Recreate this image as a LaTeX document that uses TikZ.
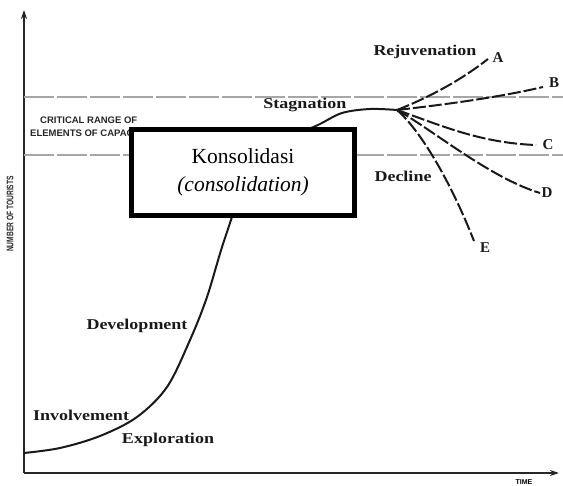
\documentclass[tikz,border=0pt]{standalone}
\usepackage{fontspec}
\setmainfont{Liberation Serif}
\newfontfamily\capsans{Liberation Sans}
\usetikzlibrary{arrows.meta}
\newcommand{\widebold}[1]{\scalebox{1.2}[1]{\bfseries #1}}

\begin{document}
\begin{tikzpicture}[x=1pt,y=-1pt,
  axis/.style={line width=1.5pt, black!85, -{Stealth[length=9pt,width=6pt]}},
  curve/.style={line width=2pt, line cap=round, black!90},
  branch/.style={line width=2pt, black!90, dash pattern=on 13pt off 3pt},
  rangeline/.style={gray!70, line width=1.3pt, dash pattern=on 30pt off 3pt},
  stage/.style={font=\fontsize{15}{18}\selectfont, inner sep=0pt, text=black!90},
  endlabel/.style={font=\fontsize{15}{18}\selectfont\bfseries, inner sep=0pt, text=black!90},
  smallcaps/.style={font=\capsans\bfseries\fontsize{9.5}{10}\selectfont, inner sep=0pt, text=black!85},
  phasebox/.style={draw, line width=5pt, fill=white, minimum width=223pt, minimum height=86pt,
    align=center, inner sep=0pt, font=\fontsize{21.5}{28}\selectfont}
]
\useasboundingbox (0,0) rectangle (563,486);

% axes
\coordinate (origin) at (24,473);
\coordinate (ytop) at (24,10);
\coordinate (xend) at (559,473);
\draw[axis] (origin) -- (ytop);
\draw[axis] (origin) -- (xend);
\node[font=\capsans\bfseries\fontsize{9.5}{10}\selectfont, rotate=90, inner sep=0pt, text=black!85] (ylab) at (10,214) {\scalebox{0.7}[1]{NUMBER OF TOURISTS}};
\node[font=\capsans\bfseries\fontsize{7}{8}\selectfont, inner sep=0pt] (xlab) at (524,482) {TIME};

% critical range of carrying capacity
\coordinate (upL) at (24,97);  \coordinate (upR) at (563,97);
\coordinate (loL) at (24,155); \coordinate (loR) at (563,155);
\draw[rangeline] (upL) -- (upR);
\draw[rangeline] (loL) -- (loR);
\node[smallcaps, anchor=west] (crit1) at (40,120) {CRITICAL RANGE OF};
\node[smallcaps, anchor=west] (crit2) at (30,133) {ELEMENTS OF CAPACITY};

% life-cycle curve
\coordinate (fork) at (397,110);
\draw[curve] plot[smooth, tension=0.55] coordinates {
  (24,453) (60,448) (100,436) (137,417) (167,387) (190,340) (207,297)
  (225,238) (250,172) (285,140) (318,125) (342,113) (370,109) (fork)};

% possible futures after stagnation
\coordinate (eA) at (488,59);
\coordinate (eB) at (543,87);
\coordinate (eC) at (536,145);
\coordinate (eD) at (540,193);
\coordinate (eE) at (474,241);
\draw[branch] (fork) .. controls (435,95) and (465,77) .. (eA);
\draw[branch] (fork) .. controls (450,104) and (500,97) .. (eB);
\draw[branch] (fork) .. controls (440,125) and (480,143) .. (eC);
\draw[branch] (fork) .. controls (430,128) and (490,178) .. (eD);
\draw[branch] (fork) .. controls (420,130) and (450,180) .. (eE);

\node[endlabel] (lA) at (498,58) {A};
\node[endlabel] (lB) at (554,83) {B};
\node[endlabel] (lC) at (548,145) {C};
\node[endlabel] (lD) at (547,193) {D};
\node[endlabel] (lE) at (485,248) {E};

% stage names
\node[stage] (rej) at (425,52) {\widebold{Rejuvenation}};
\node[stage] (stag) at (305,105) {\widebold{Stagnation}};
\node[stage] (dec) at (403,176) {\widebold{Decline}};
\node[stage] (dev) at (137,326) {\widebold{Development}};
\node[stage] (inv) at (81,415) {\widebold{Involvement}};
\node[stage] (exp) at (168,440) {\widebold{Exploration}};

% consolidation box
\node[phasebox] (cons) at (243,172.5) {Konsolidasi\\\textit{(consolidation)}};
\end{tikzpicture}
\end{document}
